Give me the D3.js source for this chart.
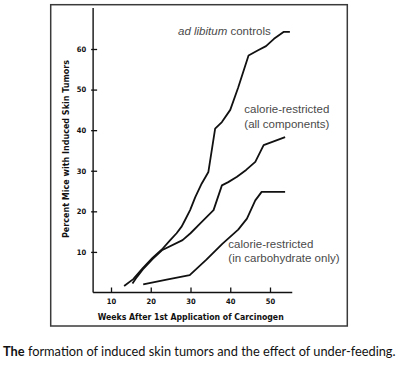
<!DOCTYPE html>
<html>
<head>
<meta charset="utf-8">
<script src="https://cdn.jsdelivr.net/npm/d3@7/dist/d3.min.js"></script>
<style>
  html, body { margin: 0; padding: 0; background: #fff; }
  svg { display: block; }
</style>
</head>
<body>
<svg id="chart" width="400" height="367"></svg>
<script>
// ---- data ----
const adLibWeeks = [13.3, 15.6, 18, 20.5, 22.8, 24.9, 26.5, 27.8, 28.6, 29.9, 31.2, 32.8, 34.5, 36.2, 37.9, 40, 42, 44.6, 47, 49, 51, 53.4, 55];
const adLibPct   = [1.6, 3.3, 6.0, 8.6, 10.6, 12.9, 14.6, 16.3, 17.8, 20.3, 23.5, 26.8, 29.7, 40.4, 42, 45, 50.5, 58.4, 59.7, 60.7, 62.5, 64.2, 64.2];

const allCompWeeks = [15.4, 16.5, 18, 20.5, 22.8, 28, 30, 32.4, 35.8, 37.9, 39.5, 41.7, 44, 46.3, 48.4, 53.8];
const allCompPct   = [2.2, 3.8, 5.7, 8.3, 10.4, 12.9, 14.6, 17, 20.3, 26.4, 27.2, 28.5, 30.2, 32.2, 36.3, 38.3];

const carbWeeks = [18.1, 24, 29.8, 34, 38, 42, 44.2, 46.3, 47.9, 53.8];
const carbPct   = [2.0, 3.2, 4.3, 8.1, 12, 15.5, 18.2, 22.7, 24.8, 24.8];

const xTicks = [10, 20, 30, 40, 50];
const yTicks = [10, 20, 30, 40, 50, 60];

const xTitle = "Weeks After 1st Application of Carcinogen";
const yTitle = "Percent Mice with Induced Skin Tumors";
const caption = ["The", " formation of induced skin tumors and the effect of under-feeding."];

// ---- drawing ----
const svg = d3.select("#chart");
const condensed = "'Liberation Sans Narrow','DejaVu Sans Condensed','Arial Narrow',sans-serif";

// frame
svg.append("rect")
  .attr("x", 50.7).attr("y", 4.7).attr("width", 296.6).attr("height", 321.3)
  .attr("fill", "none").attr("stroke", "#3a3a3a").attr("stroke-width", 1.5);

const x = d3.scaleLinear().domain([0, 60]).range([71.25, 309.75]);
const y = d3.scaleLinear().domain([0, 60]).range([292.5, 49]);

// axis lines
svg.append("line")
  .attr("x1", x(5.5)).attr("x2", x(55.6))
  .attr("y1", y(0)).attr("y2", y(0))
  .attr("stroke", "#111").attr("stroke-width", 1.4);
svg.append("line")
  .attr("x1", x(5.5)).attr("x2", x(5.5))
  .attr("y1", y(0)).attr("y2", y(70.1))
  .attr("stroke", "#111").attr("stroke-width", 1.4);

// x axis ticks
const gx = svg.append("g")
  .attr("transform", `translate(0,${y(0)})`)
  .call(d3.axisBottom(x).tickValues(xTicks).tickSize(-5).tickPadding(6).tickFormat(d3.format("d")));
gx.select(".domain").remove();
gx.selectAll(".tick line").attr("stroke", "#111").attr("stroke-width", 1.3);
gx.selectAll(".tick text")
  .attr("font-family", condensed).attr("font-weight", "bold")
  .attr("font-size", 7.5).attr("fill", "#111");

// y axis ticks
const gy = svg.append("g")
  .attr("transform", `translate(${x(5.5)},0)`)
  .call(d3.axisLeft(y).tickValues(yTicks).tickSize(2).tickPadding(5).tickFormat(d3.format("d")));
gy.select(".domain").remove();
gy.selectAll(".tick line").attr("x1", -2).attr("x2", 4).attr("stroke", "#111").attr("stroke-width", 1.3);
gy.selectAll(".tick text")
  .attr("font-family", condensed).attr("font-weight", "bold")
  .attr("font-size", 7.5).attr("fill", "#111");

// axis titles
svg.append("text")
  .attr("x", 97.7).attr("y", 319.5)
  .attr("textLength", 186).attr("lengthAdjust", "spacingAndGlyphs")
  .attr("font-family", condensed).attr("font-weight", "bold")
  .attr("font-size", 9.5).attr("fill", "#111")
  .text(xTitle);

svg.append("text")
  .attr("transform", "translate(69,238) rotate(-90)")
  .attr("x", 0).attr("y", 0)
  .attr("textLength", 178).attr("lengthAdjust", "spacingAndGlyphs")
  .attr("font-family", condensed).attr("font-weight", "bold")
  .attr("font-size", 9.5).attr("fill", "#111")
  .text(yTitle);

// lines
const line = d3.line().x(d => x(d[0])).y(d => y(d[1]));
const series = [
  d3.zip(adLibWeeks, adLibPct),
  d3.zip(allCompWeeks, allCompPct),
  d3.zip(carbWeeks, carbPct)
];
svg.selectAll("path.series").data(series).enter().append("path")
  .attr("class", "series")
  .attr("d", line)
  .attr("fill", "none").attr("stroke", "#111").attr("stroke-width", 1.8)
  .attr("stroke-linejoin", "round");

// annotations
const annFont = "'Liberation Sans',Arial,Helvetica,sans-serif";
const ann1 = svg.append("text")
  .attr("x", 270.7).attr("y", 35).attr("text-anchor", "end")
  .attr("font-family", annFont).attr("font-size", 11.5).attr("fill", "#4a4a4a");
ann1.append("tspan").attr("font-style", "italic").text("ad libitum");
ann1.append("tspan").text(" controls");

const ann2 = svg.append("text")
  .attr("font-family", annFont).attr("font-size", 11.5).attr("fill", "#4a4a4a");
ann2.append("tspan").attr("x", 244.3).attr("y", 113).text("calorie-restricted");
ann2.append("tspan").attr("x", 244.3).attr("y", 127.5).text("(all components)");

const ann3 = svg.append("text")
  .attr("font-family", annFont).attr("font-size", 11.5).attr("fill", "#4a4a4a");
ann3.append("tspan").attr("x", 228.3).attr("y", 247.5).text("calorie-restricted");
ann3.append("tspan").attr("x", 228.3).attr("y", 262).text("(in carbohydrate only)");

// caption
const cap = svg.append("text")
  .attr("x", 3).attr("y", 355.5)
  .attr("font-family", "Lato,'Open Sans',sans-serif").attr("font-size", 12.8).attr("fill", "#111");
cap.append("tspan").attr("font-weight", "bold").text(caption[0]);
cap.append("tspan").text(caption[1]);
</script>
</body>
</html>
